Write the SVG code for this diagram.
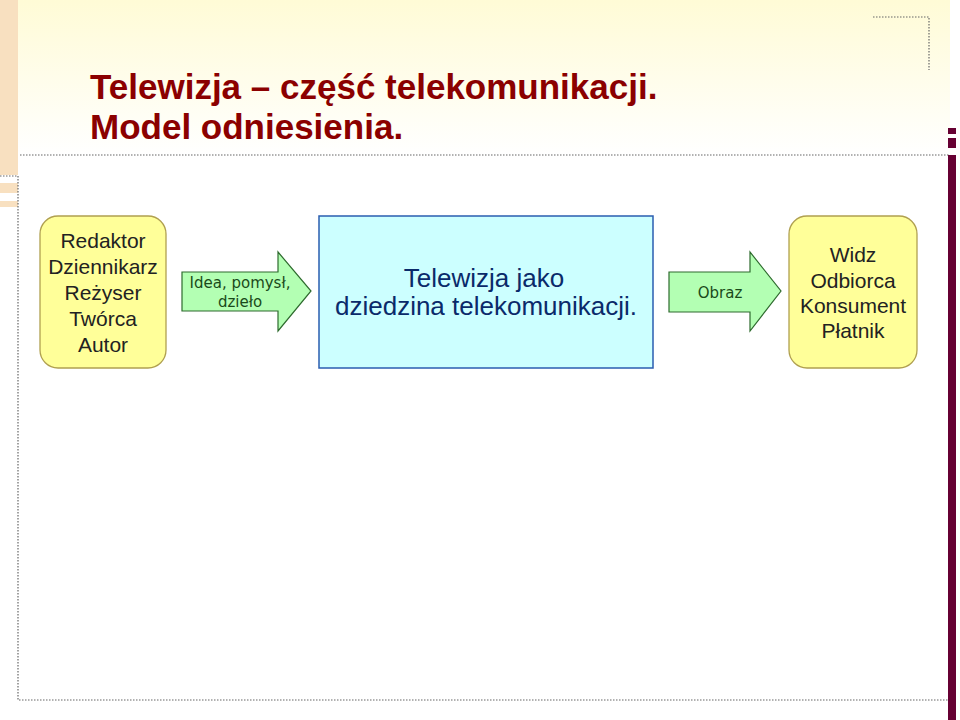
<svg xmlns="http://www.w3.org/2000/svg" width="960" height="720" viewBox="0 0 960 720">
<defs>
<linearGradient id="bg" x1="0" y1="0" x2="0" y2="1">
<stop offset="0" stop-color="#fffbd6"/><stop offset="1" stop-color="#ffffff"/>
</linearGradient>
<style>
.dot{stroke:#666;stroke-width:1.2;stroke-dasharray:1.5 1.5;fill:none}
.t{font-family:"Liberation Sans",Arial,sans-serif;text-anchor:middle}
.person{fill:#ffff99;stroke:#b0a050;stroke-width:1.3}
.arr{fill:#b3ffb3;stroke:#2e6b2e;stroke-width:1.2}
.v{font-family:Verdana,"DejaVu Sans",sans-serif;text-anchor:middle;fill:#1a4a1a;font-size:15px}
</style>
</defs>
<rect width="960" height="720" fill="#fff"/>
<rect x="0" y="0" width="950" height="155" fill="url(#bg)"/>
<rect x="0" y="0" width="18" height="175" fill="#f8e0c0"/>
<rect x="0" y="183" width="18" height="10" fill="#f8e0c0"/>
<rect x="0" y="201" width="18" height="6" fill="#f8e0c0"/>
<path class="dot" d="M20 155H950M18 176V700H948M0 176H18M873 17H929V70"/>
<rect x="948" y="155" width="8" height="565" fill="#660033"/>
<rect x="948" y="128" width="8" height="6" fill="#660033"/>
<rect x="948" y="138" width="8" height="10" fill="#660033"/>
<text class="t" x="90" y="99" font-size="35" font-weight="bold" fill="#8b0000" style="text-anchor:start">Telewizja – część telekomunikacji.</text>
<text class="t" x="90" y="139" font-size="35" font-weight="bold" fill="#8b0000" style="text-anchor:start">Model odniesienia.</text>
<g id="autor">
<rect class="person" x="40" y="216" width="126" height="152" rx="18"/>
<text class="t" font-size="21" fill="#222"><tspan x="103" y="248">Redaktor</tspan><tspan x="103" y="274">Dziennikarz</tspan><tspan x="103" y="300">Reżyser</tspan><tspan x="103" y="326">Twórca</tspan><tspan x="103" y="352">Autor</tspan></text>
</g>
<g id="connectors">
<path class="arr" d="M182 272H278V252L311 291L278 331V311H182Z"/>
<path class="arr" d="M669 272H750V252L781 291L750 331V312H669Z"/>
</g>
<g id="idea"><text class="v"><tspan x="240" y="288">Idea, pomysł,</tspan><tspan x="240" y="307">dzieło</tspan></text></g>
<g id="obraz"><text class="v" x="720" y="298">Obraz</text></g>
<g id="telewizja">
<rect x="319" y="216" width="334" height="152" fill="#ccffff" stroke="#2a5db0" stroke-width="1.5"/>
<text class="t" font-size="26" fill="#0a2a6a"><tspan x="484" y="287">Telewizja jako</tspan><tspan x="486" y="315">dziedzina telekomunikacji.</tspan></text>
</g>
<g id="widz">
<rect class="person" x="789" y="216" width="128" height="152" rx="18"/>
<text class="t" font-size="21" fill="#222"><tspan x="853" y="262">Widz</tspan><tspan x="853" y="288">Odbiorca</tspan><tspan x="853" y="313">Konsument</tspan><tspan x="853" y="338">Płatnik</tspan></text>
</g>
</svg>
